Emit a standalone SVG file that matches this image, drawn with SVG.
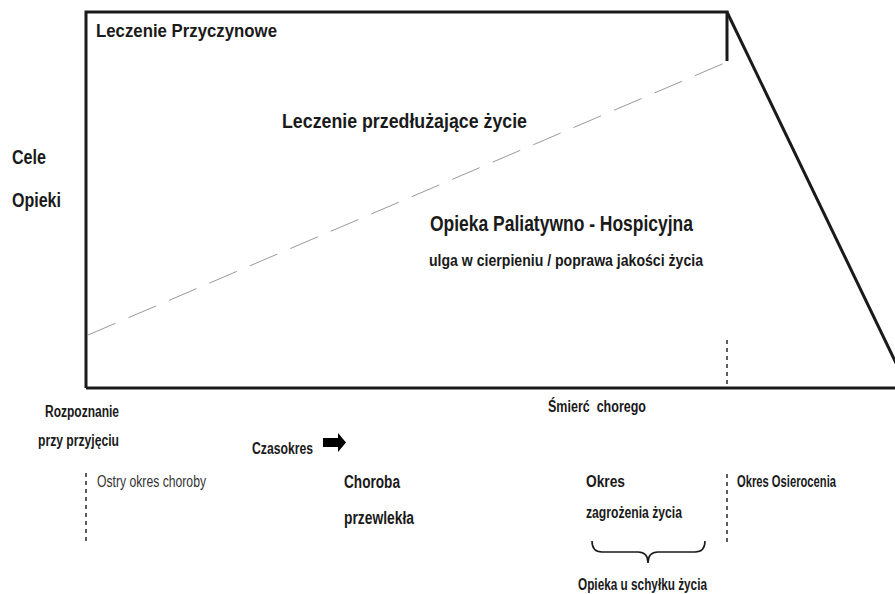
<svg xmlns="http://www.w3.org/2000/svg" width="895" height="594" viewBox="0 0 895 594">
<style>
text{font-family:"Liberation Sans Narrow","Liberation Sans",Arial,sans-serif;fill:#1a1a1a;font-weight:bold}
.n{font-weight:normal;fill:#333}
.frame{fill:none;stroke:#1a1a1a;stroke-width:3}
.vd{fill:none;stroke:#1a1a1a;stroke-width:1.4;stroke-dasharray:4 4}
</style>
<rect width="895" height="594" fill="#fff"/>
<g id="connectors">
<path class="frame" d="M86,388 V12 H727 V61"/>
<path class="frame" d="M727,12 L908,388"/>
<path class="frame" d="M86,388 H895"/>
<path d="M88,335 L727,62" fill="none" stroke="#9a9a9a" stroke-width="1" stroke-dasharray="30 14"/>
<path class="vd" d="M727,340 V388"/>
<path class="vd" d="M86,473 V541"/>
<path class="vd" d="M727,474 V542"/>
<path d="M592,541 Q592,552 602,552 L638,552 Q648,552 648,563 Q648,552 658,552 L695,552 Q705,552 705,541" fill="none" stroke="#1a1a1a" stroke-width="1.6"/>
<polygon points="323,438 338,438 338,433 346,442.5 338,452 338,447 323,447" fill="#000"/>
</g>
<g id="leczenie-przyczynowe"><text x="96" y="37" font-size="18.5" textLength="181" lengthAdjust="spacingAndGlyphs">Leczenie Przyczynowe</text></g>
<g id="cele-opieki">
<text x="12" y="164" font-size="20.5" textLength="34" lengthAdjust="spacingAndGlyphs">Cele</text>
<text x="12" y="207" font-size="20.5" textLength="49" lengthAdjust="spacingAndGlyphs">Opieki</text>
</g>
<g id="leczenie-przedluzajace"><text x="282" y="128" font-size="19.5" textLength="245" lengthAdjust="spacingAndGlyphs">Leczenie przedłużające życie</text></g>
<g id="opieka-paliatywna">
<text x="430" y="231" font-size="21.5" textLength="263" lengthAdjust="spacingAndGlyphs">Opieka Paliatywno - Hospicyjna</text>
<text x="429" y="266" font-size="16.5" textLength="274" lengthAdjust="spacingAndGlyphs">ulga w cierpieniu / poprawa jakości życia</text>
</g>
<g id="rozpoznanie">
<text x="45" y="417" font-size="16" textLength="74" lengthAdjust="spacingAndGlyphs">Rozpoznanie</text>
<text x="38" y="446" font-size="16" textLength="81" lengthAdjust="spacingAndGlyphs">przy przyjęciu</text>
</g>
<g id="czasokres"><text x="252" y="454" font-size="16" textLength="61" lengthAdjust="spacingAndGlyphs">Czasokres</text></g>
<g id="ostry-okres"><text class="n" x="97" y="487" font-size="16" textLength="109" lengthAdjust="spacingAndGlyphs">Ostry okres choroby</text></g>
<g id="choroba-przewlekla">
<text x="344" y="488" font-size="17.5" textLength="56" lengthAdjust="spacingAndGlyphs">Choroba</text>
<text x="344" y="524" font-size="17.5" textLength="70" lengthAdjust="spacingAndGlyphs">przewlekła</text>
</g>
<g id="smierc"><text x="548" y="412" font-size="16" textLength="98" lengthAdjust="spacingAndGlyphs" xml:space="preserve">Śmierć  chorego</text></g>
<g id="okres-zagrozenia">
<text x="586" y="487" font-size="16" textLength="39" lengthAdjust="spacingAndGlyphs">Okres</text>
<text x="586" y="518" font-size="16" textLength="96" lengthAdjust="spacingAndGlyphs">zagrożenia życia</text>
</g>
<g id="opieka-schylek"><text x="578" y="590" font-size="16" textLength="129" lengthAdjust="spacingAndGlyphs">Opieka u schyłku życia</text></g>
<g id="okres-osierocenia"><text x="737" y="487" font-size="16" textLength="99" lengthAdjust="spacingAndGlyphs">Okres Osierocenia</text></g>
</svg>
